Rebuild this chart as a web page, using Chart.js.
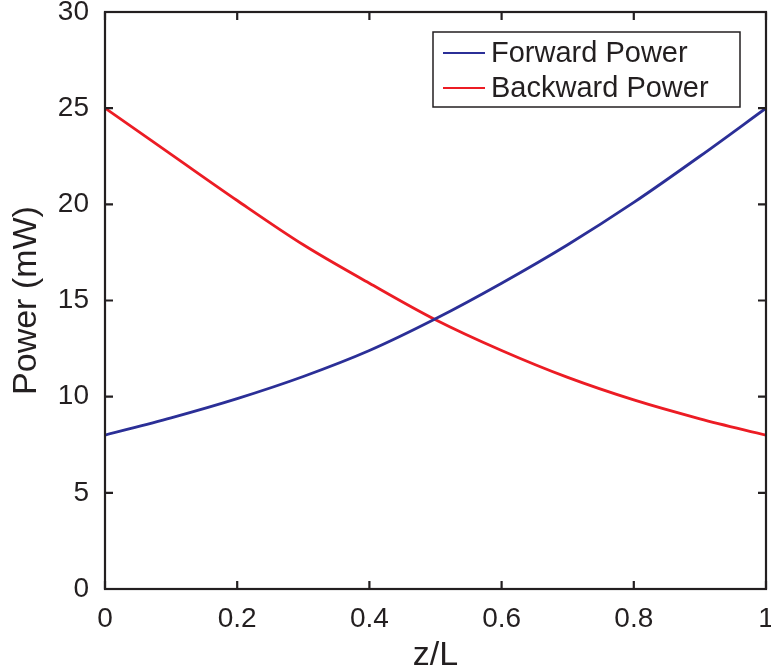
<!DOCTYPE html>
<html>
<head>
<meta charset="utf-8">
<title>Forward and Backward Power</title>
<script src="https://cdn.jsdelivr.net/npm/chart.js@4"></script>
<style>
  html, body { margin: 0; padding: 0; background: #fff; }
  #wrap { width: 771px; height: 670px; }
</style>
</head>
<body>
<div id="wrap"><canvas id="powerChart" width="771" height="670"></canvas></div>
<script>
// normalised position along the fibre
const zPos = [0, 0.1, 0.2, 0.3, 0.4, 0.5, 0.6, 0.7, 0.8, 0.9, 1.0];
// power in mW
const forwardPower = [8.0, 8.9, 9.9, 11.05, 12.4, 14.05, 15.9, 17.9, 20.1, 22.5, 25.0];
const backwardPower = [25.0, 22.6, 20.2, 17.9, 15.9, 14.0, 12.4, 11.0, 9.83, 8.85, 8.0];
const xTicks = [0, 0.2, 0.4, 0.6, 0.8, 1];
const yTicks = [0, 5, 10, 15, 20, 25, 30];

const seriesNames = ["Forward Power", "Backward Power"];
const seriesColors = ["#2b2f97", "#ec1c24"];
const FONT = "'Liberation Sans', Arial, Helvetica, sans-serif";
const INK = "#231f20";

const toPoints = (ys) => zPos.map((z, i) => ({ x: z, y: ys[i] }));

// fixed axis sizes, no extra room for overhanging labels
const fixBox = (prop, size) => (s) => {
  s[prop] = size;
  s.paddingTop = s.paddingBottom = s.paddingLeft = s.paddingRight = 0;
};

// box around the plot with ticks pointing inwards on all sides
const frame = {
  id: "frame",
  afterDatasetsDraw(chart) {
    const { ctx, chartArea: a, scales } = chart;
    const len = 8;
    ctx.save();
    ctx.strokeStyle = INK;
    ctx.lineWidth = 2.2;
    ctx.strokeRect(a.left, a.top, a.right - a.left, a.bottom - a.top);
    ctx.beginPath();
    xTicks.forEach((v) => {
      const px = scales.x.getPixelForValue(v);
      ctx.moveTo(px, a.bottom);
      ctx.lineTo(px, a.bottom - len);
      ctx.moveTo(px, a.top);
      ctx.lineTo(px, a.top + len);
    });
    yTicks.forEach((v) => {
      const py = scales.y.getPixelForValue(v);
      ctx.moveTo(a.left, py);
      ctx.lineTo(a.left + len, py);
      ctx.moveTo(a.right, py);
      ctx.lineTo(a.right - len, py);
    });
    ctx.stroke();
    ctx.restore();
  },
};

// legend box in the upper right corner of the plot
const boxLegend = {
  id: "boxLegend",
  afterDraw(chart) {
    const { ctx, chartArea: a } = chart;
    const x0 = a.right - 333, y0 = a.top + 20, w = 307, h = 75;
    ctx.save();
    ctx.fillStyle = "#fff";
    ctx.fillRect(x0, y0, w, h);
    ctx.strokeStyle = INK;
    ctx.lineWidth = 1.5;
    ctx.strokeRect(x0, y0, w, h);
    ctx.font = "29px " + FONT;
    ctx.textBaseline = "middle";
    chart.data.datasets.forEach((ds, i) => {
      const cy = y0 + 21 + i * 35;
      ctx.strokeStyle = ds.borderColor;
      ctx.lineWidth = 2;
      ctx.beginPath();
      ctx.moveTo(x0 + 10, cy);
      ctx.lineTo(x0 + 52, cy);
      ctx.stroke();
      ctx.fillStyle = INK;
      ctx.fillText(ds.label, x0 + 58, cy + 1);
    });
    ctx.restore();
  },
};

new Chart(document.getElementById("powerChart"), {
  type: "line",
  data: {
    datasets: [
      {
        label: seriesNames[0],
        data: toPoints(forwardPower),
        borderColor: seriesColors[0],
        borderWidth: 2.8,
        pointRadius: 0,
        cubicInterpolationMode: "monotone",
      },
      {
        label: seriesNames[1],
        data: toPoints(backwardPower),
        borderColor: seriesColors[1],
        borderWidth: 2.8,
        pointRadius: 0,
        cubicInterpolationMode: "monotone",
      },
    ],
  },
  options: {
    responsive: false,
    animation: false,
    layout: { padding: { top: 12, right: 5, left: 0, bottom: 0 } },
    plugins: {
      legend: { display: false },
      tooltip: { enabled: false },
    },
    scales: {
      x: {
        type: "linear",
        min: 0,
        max: 1,
        afterBuildTicks: (s) => { s.ticks = xTicks.map((v) => ({ value: v })); },
        afterFit: fixBox("height", 81),
        grid: { display: false },
        border: { display: false },
        ticks: {
          color: INK,
          font: { family: FONT, size: 28 },
          padding: 5,
          maxRotation: 0,
          callback: (v) => String(v),
        },
        title: {
          display: true,
          text: "z/L",
          color: INK,
          font: { family: FONT, size: 34, lineHeight: 1 },
          padding: { top: 0, bottom: -3 },
        },
      },
      y: {
        min: 0,
        max: 30,
        afterBuildTicks: (s) => { s.ticks = yTicks.map((v) => ({ value: v })); },
        afterFit: fixBox("width", 105),
        grid: { display: false },
        border: { display: false },
        ticks: {
          color: INK,
          font: { family: FONT, size: 28 },
          padding: 8,
        },
        title: {
          display: true,
          text: "Power (mW)",
          color: INK,
          font: { family: FONT, size: 34, lineHeight: 1 },
          padding: { top: 10, bottom: 0 },
        },
      },
    },
  },
  plugins: [frame, boxLegend],
});
</script>
</body>
</html>
